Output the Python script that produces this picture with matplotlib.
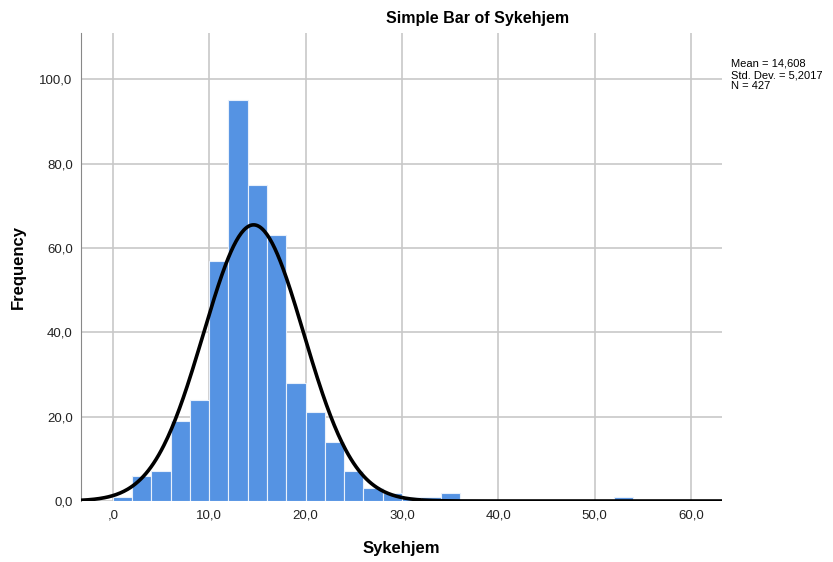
import numpy as np
import matplotlib.pyplot as plt

plt.rcParams['font.family'] = ['Liberation Sans', 'DejaVu Sans']

# ---- Data ----
bin_edges = np.arange(0, 56, 2)
counts = [1, 6, 7, 19, 24, 57, 95, 75, 63, 28, 21, 14, 7, 3, 2, 1, 1, 2,
          0, 0, 0, 0, 0, 0, 0, 0, 1]
mean, sd, n = 14.608, 5.2017, 427
x_ticks = [0, 10, 20, 30, 40, 50, 60]
x_labels = [',0', '10,0', '20,0', '30,0', '40,0', '50,0', '60,0']
y_ticks = [0, 20, 40, 60, 80, 100]
y_labels = ['0,0', '20,0', '40,0', '60,0', '80,0', '100,0']

fig = plt.figure(figsize=(8.33, 5.62), dpi=100)
ax = fig.add_axes([81 / 833, 1 - 501 / 562, (722 - 81) / 833, (501 - 33) / 562])

ax.grid(True, color='#c8c8c8', linewidth=1.2, zorder=0)
ax.set_axisbelow(True)

widths = np.diff(bin_edges)
ax.bar(bin_edges[:-1], counts, width=widths, align='edge',
       color='#5593e3', edgecolor='#e8f0fb', linewidth=0.8, zorder=2)

# normal curve scaled to counts
xs = np.linspace(-3.4, 63.4, 500)
pdf = np.exp(-0.5 * ((xs - mean) / sd) ** 2) / (sd * np.sqrt(2 * np.pi))
ax.plot(xs, n * 2 * pdf, color='black', linewidth=2.6, zorder=3)

ax.set_xlim(-3.3, 63.2)
ax.set_ylim(0, 111)
ax.set_xticks(x_ticks)
ax.set_xticklabels(x_labels)
ax.set_yticks(y_ticks)
ax.set_yticklabels(y_labels)
ax.tick_params(length=0, labelsize=9.5, colors='#222222', pad=6)

for s in ['top', 'right', 'bottom']:
    ax.spines[s].set_visible(False)
ax.spines['left'].set_color('#888888')

ax.set_xlabel('Sykehjem', fontsize=12, fontweight='bold', labelpad=14)
ax.set_ylabel('Frequency', fontsize=12, fontweight='bold', labelpad=10)
fig.text(478 / 833, 1 - 18 / 562, 'Simple Bar of Sykehjem', ha='center', va='center',
         fontsize=11.5, fontweight='bold')

fig.text(731 / 833, 1 - 75 / 562, 'Mean = 14,608\nStd. Dev. = 5,2017\nN = 427',
         ha='left', va='center', fontsize=8, linespacing=1.15)

fig.savefig('out.png', dpi=100)
